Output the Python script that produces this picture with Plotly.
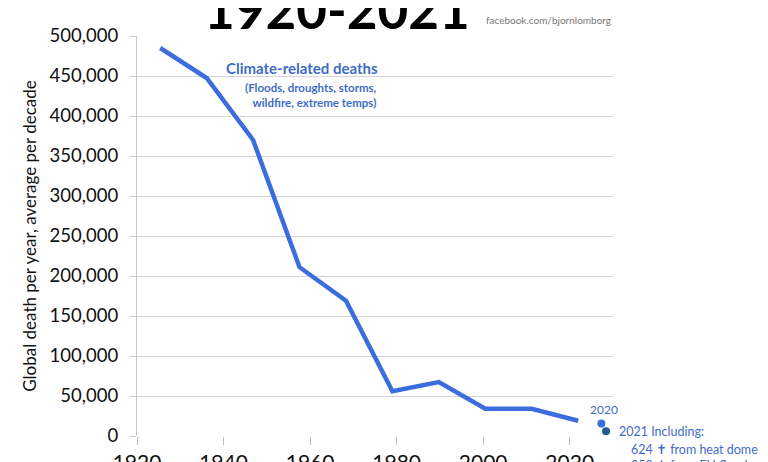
import plotly.graph_objects as go

# Data
decade_mid = [1925, 1935, 1945, 1955, 1965, 1975, 1985, 1995, 2005, 2015]
deaths = [485000, 447500, 370000, 211000, 169000, 56000, 67500, 34000, 34000, 19000]
year_2020 = [2020]
deaths_2020 = [15500]
year_2021 = [2021]
deaths_2021 = [6000]
x_ticks = [1920, 1940, 1960, 1980, 2000, 2020]
y_ticks = [0, 50000, 100000, 150000, 200000, 250000, 300000, 350000, 400000, 450000, 500000]

FONT = "Lato"
BLUE = "#3b6ddc"
TXT_BLUE = "#3f6cc4"

fig = go.Figure()
# empty trace so the primary (tick-bearing) x axis gets drawn
fig.add_trace(go.Scatter(x=[None], y=[None], xaxis="x", yaxis="y", mode="markers",
                         showlegend=False, hoverinfo="skip"))
fig.add_trace(go.Scatter(x=decade_mid, y=deaths, mode="lines", xaxis="x2",
                         line=dict(color=BLUE, width=4.5), showlegend=False))
fig.add_trace(go.Scatter(x=year_2020, y=deaths_2020, mode="markers", xaxis="x2",
                         marker=dict(color="#3a6fd8", size=8), showlegend=False, cliponaxis=False))
fig.add_trace(go.Scatter(x=year_2021, y=deaths_2021, mode="markers", xaxis="x2",
                         marker=dict(color="#1f5f8e", size=8), showlegend=False, cliponaxis=False))

fig.update_layout(
    width=768, height=462,
    margin=dict(l=129, r=163, t=28, b=34, autoexpand=False),
    plot_bgcolor="white", paper_bgcolor="white",
    font=dict(family=FONT, color="#111"),
    xaxis=dict(range=[1920, 2030], tickvals=x_ticks, showgrid=False, zeroline=False,
               ticks="outside", ticklen=8, tickcolor="#bbb", showline=False,
               ticklabeloverflow="allow", automargin=False,
               tickfont=dict(size=21, color="#111")),
    xaxis2=dict(range=[1920, 2022.5], overlaying="x", visible=False, automargin=False),
    yaxis=dict(range=[0, 500000], tickvals=y_ticks, tickformat=",d",
               showgrid=True, gridcolor="#d4d4d4", gridwidth=1.2, zeroline=False,
               showline=True, linecolor="#c8c8c8", linewidth=1.2,
               ticks="outside", ticklen=6, tickcolor="#c8c8c8",
               ticklabelstandoff=8, automargin=False,
               tickfont=dict(size=18.5, color="#111"),
               title=dict(text="Global death per year, average per decade",
                          font=dict(size=17, color="#111"), standoff=8)),
)

ann = []
ann.append(dict(text="<b>1920-2021</b>", xref="paper", yref="paper", x=0.42, y=0.985,
                xanchor="center", yanchor="bottom", showarrow=False,
                font=dict(size=53, color="#000", family=FONT)))
ann.append(dict(text="facebook.com/bjornlomborg", xref="paper", yref="paper", x=1.0, y=1.02,
                xanchor="right", yanchor="bottom", showarrow=False,
                font=dict(size=10, color="#777", family=FONT)))
ann.append(dict(text="<b>Climate-related deaths</b>", xref="paper", yref="paper",
                x=(380 - 137) / 476, y=(436 - 68) / 400, xanchor="right", yanchor="middle",
                showarrow=False, font=dict(size=15, color=TXT_BLUE, family=FONT)))
ann.append(dict(text="<b>(Floods, droughts, storms,<br>wildfire, extreme temps)</b>", xref="paper", yref="paper",
                x=(379 - 137) / 476, y=(436 - 95) / 400, xanchor="right", yanchor="middle", align="right",
                showarrow=False, font=dict(size=11.5, color=TXT_BLUE, family=FONT)))
ann.append(dict(text="2020", xref="paper", yref="paper",
                x=(604 - 137) / 476, y=(436 - 409) / 400, xanchor="center", yanchor="middle",
                showarrow=False, font=dict(size=12, color=TXT_BLUE, family=FONT)))
ann.append(dict(text="2021 Including:", xref="paper", yref="paper",
                x=(617 - 137) / 476, y=(436 - 431) / 400, xanchor="left", yanchor="middle",
                showarrow=False, font=dict(size=12.5, color=TXT_BLUE, family=FONT)))
ann.append(dict(text="624 \u271d from heat dome<br>358 \u271d from EU floods", xref="paper", yref="paper",
                x=(629 - 137) / 476, y=(436 - 440) / 400, xanchor="left", yanchor="top", align="left",
                showarrow=False, font=dict(size=12.5, color=TXT_BLUE, family=FONT)))
fig.update_layout(annotations=ann)

fig.write_html("out.html")
